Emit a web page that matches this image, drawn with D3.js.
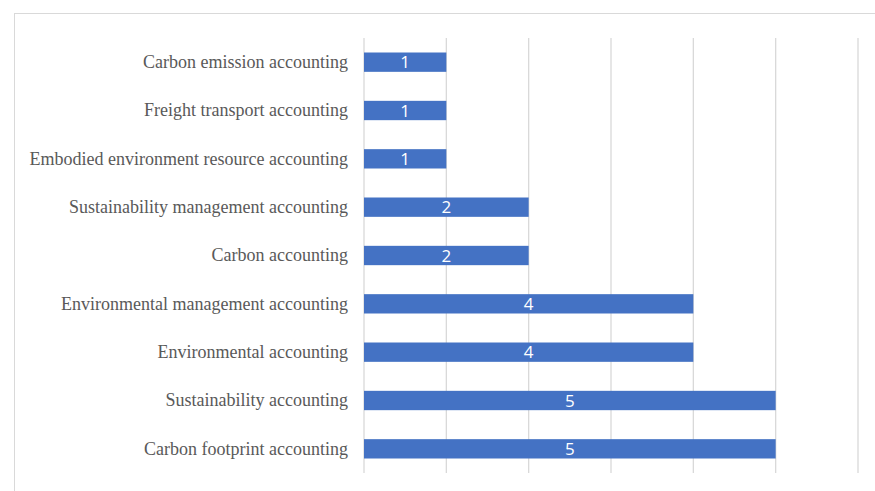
<!DOCTYPE html>
<html>
<head>
<meta charset="utf-8">
<script src="https://cdn.jsdelivr.net/npm/d3@7"></script>
<style>
  body { margin: 0; background: #fff; }
</style>
</head>
<body>
<svg width="875" height="491"></svg>
<script>
// categories top to bottom, with their counts
var categories = [
    "Carbon emission accounting",
    "Freight transport accounting",
    "Embodied environment resource accounting",
    "Sustainability management accounting",
    "Carbon accounting",
    "Environmental management accounting",
    "Environmental accounting",
    "Sustainability accounting",
    "Carbon footprint accounting"
];
var counts = [1, 1, 1, 2, 2, 4, 4, 5, 5];
var xTicks = [0, 1, 2, 3, 4, 5, 6];

var svg = d3.select("svg");

// chart frame
svg.append("rect")
    .attr("x", 14.5).attr("y", 13.5)
    .attr("width", 900).attr("height", 520)
    .attr("fill", "none")
    .attr("stroke", "#d9d9d9")
    .attr("stroke-width", 1);

var x = d3.scaleLinear().domain([0, 6]).range([364, 858]);
var y = d3.scaleBand().domain(categories).range([38, 473]).paddingInner(0.6).paddingOuter(0.3);

// gridlines
svg.append("g")
    .selectAll("line")
    .data(xTicks)
    .join("line")
    .attr("x1", d => x(d)).attr("x2", d => x(d))
    .attr("y1", 38).attr("y2", 473)
    .attr("stroke", "#d9d9d9")
    .attr("stroke-width", 1.3);

// bars
svg.append("g")
    .selectAll("rect")
    .data(categories)
    .join("rect")
    .attr("x", x(0))
    .attr("y", d => y(d))
    .attr("width", (d, i) => x(counts[i]) - x(0))
    .attr("height", y.bandwidth())
    .attr("fill", "#4472c4");

// value labels
svg.append("g")
    .selectAll("text")
    .data(categories)
    .join("text")
    .attr("x", (d, i) => (x(0) + x(counts[i])) / 2)
    .attr("y", d => y(d) + y.bandwidth() / 2)
    .attr("dy", "0.36em")
    .attr("text-anchor", "middle")
    .attr("font-family", "'Open Sans', sans-serif")
    .attr("font-size", "17px")
    .attr("fill", "#fff")
    .text((d, i) => counts[i]);

// category labels
svg.append("g")
    .selectAll("text")
    .data(categories)
    .join("text")
    .attr("x", 348)
    .attr("y", d => y(d) + y.bandwidth() / 2)
    .attr("dy", "0.33em")
    .attr("text-anchor", "end")
    .attr("font-family", "'Liberation Serif', 'Times New Roman', serif")
    .attr("font-size", "18px")
    .attr("fill", "#595959")
    .text(d => d);
</script>
</body>
</html>
